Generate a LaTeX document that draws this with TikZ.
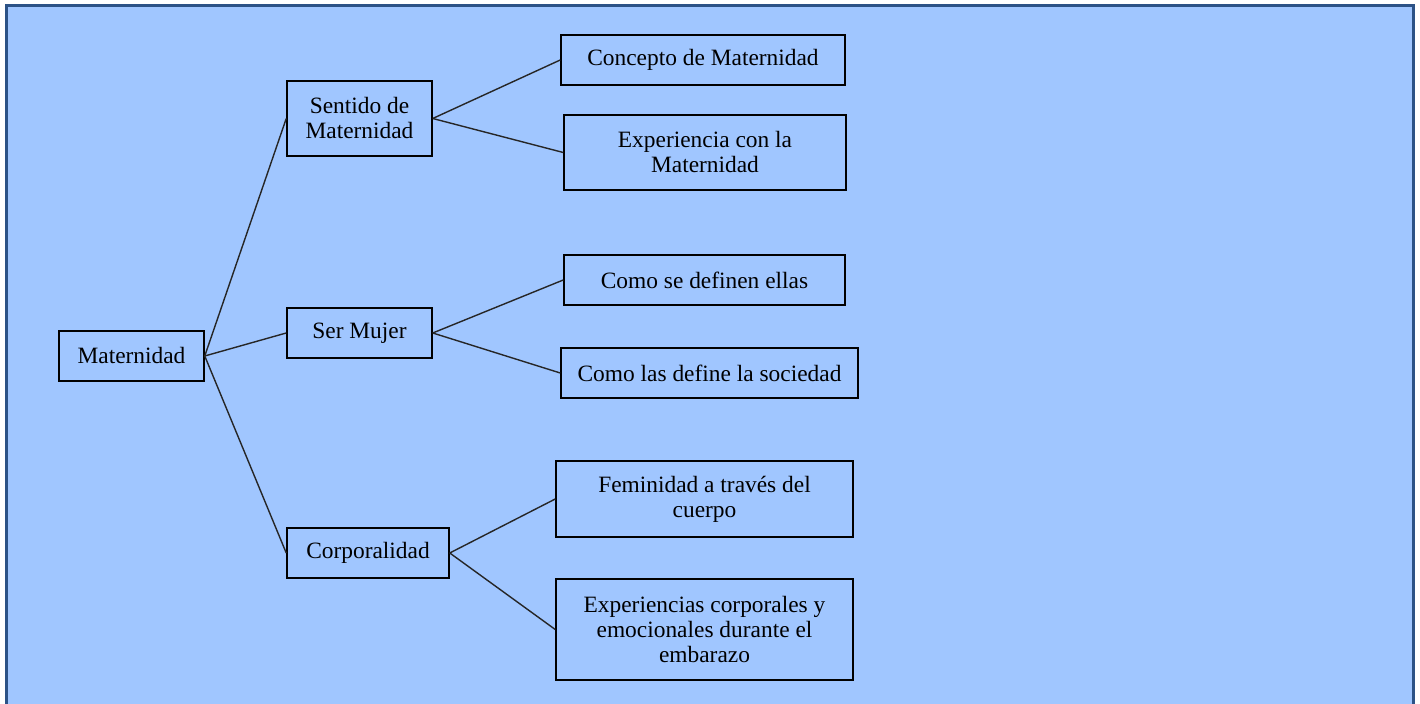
\documentclass[tikz,border=0pt]{standalone}
\usepackage{fontspec}
\setmainfont{Liberation Serif}
\definecolor{mapfill}{RGB}{160, 198, 255}
\definecolor{mapframe}{RGB}{44, 82, 134}
\tikzset{
  topicbox/.style={draw=black, line width=0.75pt, inner sep=0pt, align=center,
    font=\fontsize{11.7}{12.5}\selectfont, minimum height=25pt},
  branch/.style={draw=black!85, line width=0.7pt}
}
\begin{document}
\begin{tikzpicture}[x=0.5pt, y=-0.5pt]
\useasboundingbox (0,0) rectangle (1420,704);
\clip (0,0) rectangle (1420,704);
% frame
\fill[white] (0,0) rectangle (1420,704);
\draw[mapframe, line width=1.5pt, fill=mapfill] (6,6) rectangle (1413,730);
% root
\node[topicbox, minimum width=72.5pt] (root) at (131.5,356) {Maternidad};
% second level
\node[topicbox, minimum width=72.5pt, minimum height=37.5pt] (sentido) at (359.5,118.5) {Sentido de\\Maternidad};
\node[topicbox, minimum width=72.5pt] (mujer) at (359.5,333) {Ser Mujer};
\node[topicbox, minimum width=81pt] (cuerpo) at (368,553) {Corporalidad};
% third level
\node[topicbox, minimum width=142pt] (concepto) at (703,60) {Concepto de Maternidad};
\node[topicbox, minimum width=141pt, minimum height=37.5pt] (experiencia) at (705,152.5) {Experiencia con la\\Maternidad};
\node[topicbox, minimum width=140.5pt] (ellas) at (704.5,280) {Como se definen ellas};
\node[topicbox, minimum width=148.5pt] (sociedad) at (709.5,373) {Como las define la sociedad};
\node[topicbox, minimum width=148.5pt, minimum height=38pt] (feminidad) at (704.5,499) {Feminidad a través del\\cuerpo};
\node[topicbox, minimum width=148.5pt, minimum height=50.5pt] (embarazo) at (704.5,629.5) {Experiencias corporales y\\emocionales durante el\\embarazo};
% connectors
\foreach \kid in {sentido, mujer, cuerpo}
  \draw[branch] (root.east) -- (\kid.west);
\draw[branch] (sentido.east) -- (concepto.west);
\draw[branch] (sentido.east) -- (experiencia.west);
\draw[branch] (mujer.east) -- (ellas.west);
\draw[branch] (mujer.east) -- (sociedad.west);
\draw[branch] (cuerpo.east) -- (feminidad.west);
\draw[branch] (cuerpo.east) -- (embarazo.west);
\end{tikzpicture}
\end{document}
